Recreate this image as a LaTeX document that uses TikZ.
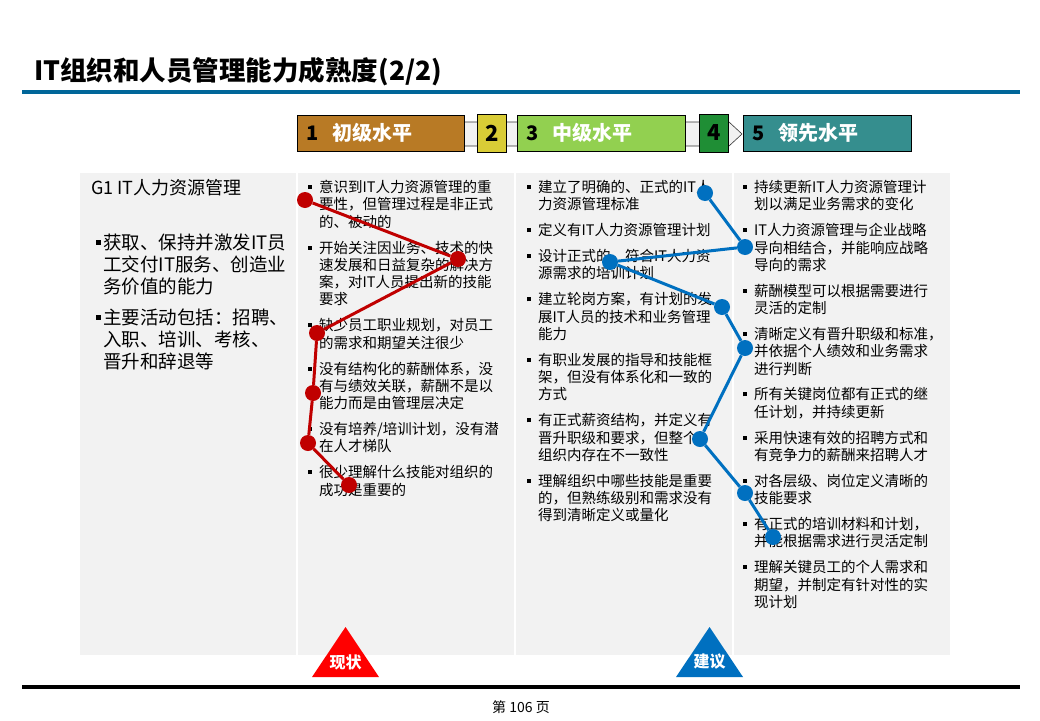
\documentclass[tikz,border=0pt]{standalone}
\usepackage{fontspec}
\setmainfont{Noto Sans CJK SC}
\usetikzlibrary{positioning}
\definecolor{lvlA}{RGB}{184,122,37}
\definecolor{lvlB}{RGB}{217,204,54}
\definecolor{lvlC}{RGB}{146,208,80}
\definecolor{lvlD}{RGB}{31,142,53}
\definecolor{lvlE}{RGB}{53,142,142}
\definecolor{panel}{RGB}{242,242,242}
\definecolor{titlebar}{RGB}{0,102,153}
\definecolor{nowred}{RGB}{192,0,0}
\definecolor{tobeblue}{RGB}{0,112,192}
\newcommand{\lvl}[2]{\textcolor{black}{#1}\hspace{14pt}\textcolor{white}{#2}}
\newcommand{\itm}[1]{\par\hangindent=11pt\hangafter=1\noindent\makebox[11pt][l]{\rule[3.5pt]{4pt}{4pt}}#1\par\vspace{8.6pt}}
\newcommand{\bigitm}[1]{\par\hangindent=7pt\hangafter=1\noindent\makebox[7pt][l]{\rule[4.5pt]{5pt}{5pt}}#1\par\vspace{9pt}}

\begin{document}
\begin{tikzpicture}[x=1pt, y=-1pt, node distance=13pt,
  lvlbox/.style={draw=black, line width=1pt, minimum height=36pt, text width=149.5pt,
    inner xsep=9pt, inner ysep=0pt, align=left, font=\bfseries\fontsize{20}{24}\selectfont},
  numbox/.style={draw=black, line width=1pt, minimum height=38pt, minimum width=29pt,
    inner sep=0pt, font=\bfseries\fontsize{22}{24}\selectfont},
  coltext/.style={anchor=north west, inner sep=0pt, text width=200pt, align=left,
    font=\fontsize{14.5}{17.3}\selectfont},
  rdot/.style={circle, fill=nowred, inner sep=0pt, minimum size=16pt},
  bdot/.style={circle, fill=tobeblue, inner sep=0pt, minimum size=16pt},
  rline/.style={nowred, line width=3pt},
  bline/.style={tobeblue, line width=3pt},
  tag/.style={text=white, font=\bfseries\fontsize{16}{16}\selectfont}]
  \useasboundingbox[fill=white] (0,0) rectangle (1040,720);

  % title and rules
  \node (title) [anchor=west, inner sep=0pt, font=\bfseries\fontsize{26.5}{30}\selectfont] at (34,72) {IT组织和人员管理能力成熟度(2/2)};
  \fill[titlebar] (22,90) rectangle (1020,94);
  \fill[black] (22,685) rectangle (1020,689);
  \node (page) [font=\fontsize{14}{16}\selectfont] at (521,707) {第 106 页};

  % level header
  \draw[black!80, line width=0.6pt, fill=panel] (381,122) -- (729,122) -- (742,134) -- (729,146) -- (381,146) -- cycle;
  \node (lv1) [lvlbox, fill=lvlA] at (381,133) {\lvl{1}{初级水平}};
  \node (lv2) [numbox, fill=lvlB, right=12pt of lv1] {2};
  \node (lv3) [lvlbox, fill=lvlC, right=10pt of lv2] {\lvl{3}{中级水平}};
  \node (lv4) [numbox, fill=lvlD, right=13pt of lv3] {4};
  \node (lv5) [lvlbox, fill=lvlE, right=14.5pt of lv4] {\lvl{5}{领先水平}};

  % panel
  \fill[panel] (80,173) rectangle (950,655);
  \draw[white, line width=1.5pt] (297,173) -- (297,655) (515,173) -- (515,655) (733,173) -- (733,655);

  \node (g1) [anchor=west, inner sep=0pt, font=\fontsize{18}{22}\selectfont] at (91,188) {G1 IT人力资源管理};
  \node (g1txt) [coltext, font=\fontsize{18.5}{22}\selectfont] at (96,227) {
    \bigitm{获取、保持并激发IT员\newline 工交付IT服务、创造业\newline 务价值的能力}
    \bigitm{主要活动包括：招聘、\newline 入职、培训、考核、\newline 晋升和辞退等}
  };

  \node (low) [coltext] at (308,175) {
    \itm{意识到IT人力资源管理的重\newline 要性，但管理过程是非正式\newline 的、被动的}
    \itm{开始关注因业务、技术的快\newline 速发展和日益复杂的解决方\newline 案，对IT人员提出新的技能\newline 要求}
    \itm{缺少员工职业规划，对员工\newline 的需求和期望关注很少}
    \itm{没有结构化的薪酬体系，没\newline 有与绩效关联，薪酬不是以\newline 能力而是由管理层决定}
    \itm{没有培养/培训计划，没有潜\newline 在人才梯队}
    \itm{很少理解什么技能对组织的\newline 成功是重要的}
  };

  \node (mid) [coltext] at (527,175) {
    \itm{建立了明确的、正式的IT人\newline 力资源管理标准}
    \itm{定义有IT人力资源管理计划}
    \itm{设计正式的、符合IT人力资\newline 源需求的培训计划}
    \itm{建立轮岗方案，有计划的发\newline 展IT人员的技术和业务管理\newline 能力}
    \itm{有职业发展的指导和技能框\newline 架，但没有体系化和一致的\newline 方式}
    \itm{有正式薪资结构，并定义有\newline 晋升职级和要求，但整个\newline 组织内存在不一致性}
    \itm{理解组织中哪些技能是重要\newline 的，但熟练级别和需求没有\newline 得到清晰定义或量化}
  };

  \node (top) [coltext] at (743,175) {
    \itm{持续更新IT人力资源管理计\newline 划以满足业务需求的变化}
    \itm{IT人力资源管理与企业战略\newline 导向相结合，并能响应战略\newline 导向的需求}
    \itm{薪酬模型可以根据需要进行\newline 灵活的定制}
    \itm{清晰定义有晋升职级和标准，\newline 并依据个人绩效和业务需求\newline 进行判断}
    \itm{所有关键岗位都有正式的继\newline 任计划，并持续更新}
    \itm{采用快速有效的招聘方式和\newline 有竞争力的薪酬来招聘人才}
    \itm{对各层级、岗位定义清晰的\newline 技能要求}
    \itm{有正式的培训材料和计划，\newline 并能根据需求进行灵活定制}
    \itm{理解关键员工的个人需求和\newline 期望，并制定有针对性的实\newline 现计划}
  };

  % current state
  \node (r1) [rdot] at (305,200) {};
  \node (r2) [rdot] at (458,259) {};
  \node (r3) [rdot] at (317,333) {};
  \node (r4) [rdot] at (313,393) {};
  \node (r5) [rdot] at (308,443) {};
  \node (r6) [rdot] at (349,485) {};
  \draw[rline] (r1) -- (r2) -- (r3) -- (r4) -- (r5) -- (r6);

  % target state
  \node (b1) [bdot] at (705,193) {};
  \node (b2) [bdot] at (745,247) {};
  \node (b3) [bdot] at (610,262) {};
  \node (b4) [bdot] at (722,307) {};
  \node (b5) [bdot] at (745,348) {};
  \node (b6) [bdot] at (700,439) {};
  \node (b7) [bdot] at (745,493) {};
  \node (b8) [bdot] at (773,537) {};
  \draw[bline] (b1) -- (b2) -- (b3) -- (b4) -- (b5) -- (b6) -- (b7) -- (b8);

  % markers
  \fill[red] (312,677) -- (345.5,627) -- (379,677) -- cycle;
  \node (now) [tag] at (345.5,662) {现状};
  \fill[tobeblue] (676,677) -- (709.5,627) -- (743,677) -- cycle;
  \node (tobe) [tag] at (709.5,662) {建议};
\end{tikzpicture}
\end{document}
